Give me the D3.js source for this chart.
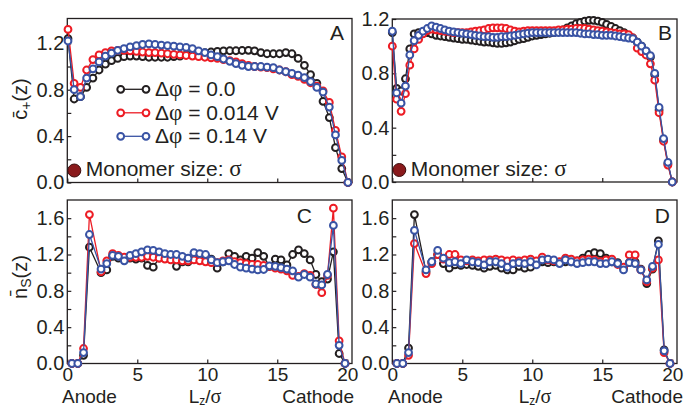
<!DOCTYPE html>
<html>
<head>
<meta charset="utf-8">
<script src="https://cdn.jsdelivr.net/npm/d3@7"></script>
<style>
  body { margin: 0; background: #fff; }
  svg { display: block; }
  text { font-family: "Liberation Sans", Arial, Helvetica, sans-serif; fill: #231f20; }
</style>
</head>
<body>
<svg id="chart" width="686" height="407"></svg>
<script>
// ---- Bin centres along the cell (units of sigma) ----
const zA = [0.05, 0.49, 0.94, 1.38, 1.83, 2.27, 2.72, 3.16, 3.6, 4.05, 4.49, 4.94, 5.38, 5.83, 6.27,
  6.72, 7.16, 7.61, 8.05, 8.49, 8.94, 9.38, 9.83, 10.27, 10.72, 11.16, 11.61, 12.05, 12.49, 12.94,
  13.38, 13.83, 14.27, 14.72, 15.16, 15.61, 16.05, 16.49, 16.94, 17.38, 17.83, 18.27, 18.72, 19.16,
  19.61, 20.05];
const zB = [0, 0.31, 0.63, 0.94, 1.25, 1.56, 1.88, 2.19, 2.5, 2.81, 3.13, 3.44, 3.75, 4.06, 4.38,
  4.69, 5, 5.31, 5.63, 5.94, 6.25, 6.56, 6.88, 7.19, 7.5, 7.81, 8.13, 8.44, 8.75, 9.06, 9.38, 9.69,
  10, 10.31, 10.63, 10.94, 11.25, 11.56, 11.88, 12.19, 12.5, 12.81, 13.13, 13.44, 13.75, 14.06,
  14.38, 14.69, 15, 15.31, 15.63, 15.94, 16.25, 16.56, 16.88, 17.19, 17.5, 17.81, 18.13, 18.44,
  18.75, 19.06, 19.38, 19.69, 20];
const zCD = [0.33, 0.75, 1.16, 1.58, 2.41, 2.82, 3.24, 3.65, 4.07, 4.48, 4.9, 5.31, 5.73, 6.14,
  6.56, 6.97, 7.39, 7.8, 8.22, 8.63, 9.05, 9.46, 9.88, 10.29, 10.71, 11.12, 11.54, 11.95, 12.37,
  12.78, 13.2, 13.61, 14.03, 14.44, 14.86, 15.27, 15.69, 16.1, 16.52, 16.93, 17.35, 17.76, 18.18,
  18.59, 19.01, 19.42, 19.84];

// ---- Counterion density, panel A ----
const cA_0 = [1.24, 0.72, 0.74, 0.82, 0.90, 0.97, 1.02, 1.05, 1.07, 1.085, 1.09, 1.09, 1.085, 1.08,
  1.08, 1.08, 1.08, 1.085, 1.09, 1.10, 1.105, 1.11, 1.12, 1.125, 1.13, 1.135, 1.136, 1.136, 1.138,
  1.14, 1.135, 1.12, 1.11, 1.11, 1.11, 1.12, 1.11, 1.07, 1.01, 0.93, 0.855, 0.70, 0.56, 0.30, 0.12, 0.0];
const cA_014 = [1.32, 0.855, 0.82, 0.97, 1.06, 1.10, 1.12, 1.135, 1.14, 1.14, 1.135, 1.13, 1.125,
  1.12, 1.12, 1.115, 1.11, 1.105, 1.10, 1.095, 1.09, 1.085, 1.08, 1.075, 1.07, 1.06, 1.05, 1.04,
  1.025, 1.01, 1.00, 0.995, 0.99, 0.98, 0.97, 0.955, 0.93, 0.915, 0.89, 0.86, 0.83, 0.79, 0.69,
  0.45, 0.22, 0.0];
const cA_14 = [1.22, 0.80, 0.74, 0.90, 0.98, 1.04, 1.09, 1.115, 1.14, 1.155, 1.17, 1.18, 1.19,
  1.195, 1.19, 1.185, 1.18, 1.175, 1.17, 1.165, 1.155, 1.135, 1.12, 1.10, 1.085, 1.065, 1.045,
  1.025, 1.01, 1.0, 1.0, 1.0, 0.995, 0.99, 0.97, 0.955, 0.94, 0.925, 0.905, 0.87, 0.82, 0.78, 0.65,
  0.41, 0.19, 0.0];

// ---- Counterion density, panel B ----
const cB_0 = [1.10, 0.69, 0.67, 0.76, 0.98, 1.09, 1.10, 1.105, 1.10, 1.09, 1.08, 1.075, 1.07,
  1.065, 1.06, 1.055, 1.05, 1.05, 1.045, 1.04, 1.035, 1.03, 1.03, 1.025, 1.02, 1.02, 1.025, 1.03,
  1.04, 1.05, 1.055, 1.065, 1.075, 1.08, 1.085, 1.09, 1.095, 1.10, 1.11, 1.12, 1.135, 1.15, 1.165,
  1.175, 1.185, 1.19, 1.19, 1.185, 1.175, 1.16, 1.145, 1.13, 1.115, 1.10, 1.08, 1.06, 1.03, 1.0,
  0.96, 0.92, 0.79, 0.53, 0.31, 0.135, 0.0];
const cB_014 = [1.00, 0.61, 0.52, 0.65, 0.86, 0.98, 1.05, 1.09, 1.115, 1.125, 1.12, 1.115, 1.11,
  1.105, 1.10, 1.10, 1.10, 1.10, 1.105, 1.11, 1.115, 1.12, 1.13, 1.135, 1.135, 1.135, 1.13, 1.12,
  1.11, 1.105, 1.11, 1.115, 1.115, 1.115, 1.115, 1.115, 1.115, 1.115, 1.12, 1.12, 1.125, 1.125,
  1.13, 1.13, 1.13, 1.125, 1.12, 1.115, 1.11, 1.105, 1.10, 1.095, 1.09, 1.09, 1.085, 1.06, 0.985,
  0.96, 0.935, 0.87, 0.75, 0.51, 0.30, 0.125, 0.0];
const cB_14 = [1.11, 0.656, 0.58, 0.706, 0.935, 1.04, 1.08, 1.11, 1.13, 1.15, 1.14, 1.13, 1.12,
  1.11, 1.105, 1.10, 1.095, 1.09, 1.085, 1.08, 1.075, 1.07, 1.07, 1.065, 1.065, 1.07, 1.07, 1.075,
  1.08, 1.085, 1.09, 1.095, 1.10, 1.10, 1.10, 1.10, 1.10, 1.10, 1.10, 1.10, 1.10, 1.10, 1.10,
  1.095, 1.09, 1.09, 1.085, 1.085, 1.08, 1.08, 1.08, 1.075, 1.07, 1.065, 1.06, 1.055, 1.03, 1.0,
  0.966, 0.93, 0.80, 0.55, 0.32, 0.145, 0.0];

// ---- Solvent density, panel C ----
const nC_0 = [0, 0, 0.09, 1.28, 1.00, 1.03, 1.18, 1.16, 1.15, 1.16, 1.15, 1.16, 1.08, 1.06, 1.16,
  1.19, 1.18, 1.07, 1.12, 1.12, 1.16, 1.14, 1.18, 1.15, 1.05, 1.12, 1.21, 1.18, 1.14, 1.18, 1.16,
  1.22, 1.18, 1.07, 1.15, 1.14, 1.085, 1.20, 1.25, 1.21, 1.14, 0.98, 0.90, 0.93, 1.23, 0.11, 0];
const nC_014 = [0, 0, 0.165, 1.64, 1.01, 1.13, 1.21, 1.19, 1.17, 1.17, 1.17, 1.17, 1.18, 1.17,
  1.16, 1.15, 1.14, 1.14, 1.13, 1.13, 1.14, 1.13, 1.12, 1.11, 1.11, 1.13, 1.14, 1.12, 1.11, 1.10,
  1.09, 1.09, 1.08, 1.07, 1.05, 1.04, 1.02, 0.97, 0.96, 0.99, 0.97, 0.87, 0.78, 0.97, 1.71, 0.25, 0];
const nC_14 = [0, 0, 0.12, 1.42, 1.04, 1.10, 1.19, 1.18, 1.13, 1.19, 1.21, 1.23, 1.25, 1.245, 1.23,
  1.21, 1.20, 1.20, 1.18, 1.16, 1.22, 1.21, 1.20, 1.14, 1.11, 1.12, 1.13, 1.09, 1.06, 1.05, 1.04,
  1.03, 1.035, 1.075, 1.07, 1.055, 1.04, 1.02, 0.95, 0.98, 0.95, 0.875, 0.865, 0.98, 1.52, 0.20, 0];

// ---- Solvent density, panel D ----
const nD_0 = [0, 0, 0.17, 1.64, 1.01, 1.12, 1.20, 1.10, 1.05, 1.085, 1.08, 1.09, 1.08, 1.07, 1.05,
  1.07, 1.08, 1.05, 1.03, 1.03, 1.07, 1.05, 1.06, 1.10, 1.12, 1.11, 1.12, 1.11, 1.12, 1.12, 1.13,
  1.16, 1.20, 1.22, 1.21, 1.16, 1.12, 1.11, 1.05, 1.11, 1.12, 1.04, 0.88, 1.04, 1.35, 0.15, 0];
const nD_014 = [0, 0, 0.09, 1.32, 0.99, 1.10, 1.20, 1.15, 1.20, 1.20, 1.14, 1.13, 1.14, 1.13, 1.14,
  1.14, 1.15, 1.14, 1.13, 1.14, 1.13, 1.14, 1.15, 1.13, 1.17, 1.14, 1.13, 1.12, 1.16, 1.15, 1.13,
  1.14, 1.15, 1.14, 1.12, 1.14, 1.15, 1.09, 1.06, 1.195, 1.195, 1.03, 0.90, 1.05, 1.14, 0.12, 0];
const nD_14 = [0, 0, 0.12, 1.465, 1.03, 1.12, 1.245, 1.16, 1.11, 1.12, 1.10, 1.14, 1.12, 1.11,
  1.085, 1.12, 1.12, 1.10, 1.06, 1.10, 1.11, 1.10, 1.12, 1.085, 1.14, 1.15, 1.14, 1.10, 1.14, 1.12,
  1.10, 1.11, 1.12, 1.12, 1.10, 1.10, 1.12, 1.10, 1.03, 1.11, 1.10, 1.03, 0.92, 1.07, 1.31, 0.14, 0];

// ---- Labels ----
const legendLabels = ["0.0", "0.014 V", "0.14 V"];
const xTickValues = [0, 5, 10, 15, 20];
const yTicksC = [0, 0.2, 0.4, 0.6, 0.8, 1.0, 1.2];
const yTicksN = [0, 0.2, 0.4, 0.6, 0.8, 1.0, 1.2, 1.4, 1.6];

// ---- Styling ----
const ink = "#231f20";
const colors = ["#231f20", "#ed1c24", "#3953a4"];
const xMax = 20.34;
const fontSize = 19;
const yTickFont = 20;
const xTickFont = 19;
const noteFont = 21;
const serif = "'Liberation Serif', 'Times New Roman', serif";

const svg = d3.select("#chart");

const panels = [
  { letter: "A", z: zA, series: [cA_0, cA_014, cA_14], yMax: 1.414, yTicks: yTicksC,
    x0: 67.3, x1: 352, y0: 18.5, y1: 182.5, letterX: 344, letterY: 40, bottomLabels: false,
    monomer: true, legend: true },
  { letter: "B", z: zB, series: [cB_0, cB_014, cB_14], yMax: 1.2, yTicks: yTicksC,
    x0: 392.3, x1: 677, y0: 19, y1: 182, letterX: 672, letterY: 40, bottomLabels: false,
    monomer: true, legend: false },
  { letter: "C", z: zCD, series: [nC_0, nC_014, nC_14], yMax: 1.8, yTicks: yTicksN,
    x0: 67.3, x1: 352, y0: 200, y1: 363.5, letterX: 312, letterY: 223, bottomLabels: true,
    anodeX: 62, cathodeX: 354, lzX: 205, monomer: false, legend: false },
  { letter: "D", z: zCD, series: [nD_0, nD_014, nD_14], yMax: 1.8, yTicks: yTicksN,
    x0: 392.3, x1: 677, y0: 200, y1: 363.5, letterX: 670, letterY: 223, bottomLabels: true,
    anodeX: 388, cathodeX: 683, lzX: 535, monomer: false, legend: false }
];

function styleAxis(size) {
  return sel => {
    sel.attr("font-size", size).attr("font-family", null).attr("color", ink);
    sel.select(".domain").remove();
    sel.selectAll(".tick line").attr("stroke-width", 1.2);
  };
}

panels.forEach(p => {
  const x = d3.scaleLinear().domain([0, xMax]).range([p.x0, p.x1]);
  const y = d3.scaleLinear().domain([0, p.yMax]).range([p.y1, p.y0]);
  const g = svg.append("g");

  // y axis: inward ticks every 0.2, labels every 0.4
  g.append("g")
    .attr("transform", `translate(${p.x0},0)`)
    .call(d3.axisLeft(y).tickValues(p.yTicks).tickSize(-4).tickPadding(3)
      .tickFormat(d => (Math.round(d * 10) % 4 === 0 ? d3.format(".1f")(d) : "")))
    .call(styleAxis(yTickFont));

  // x axis: inward ticks, numbers only on the lower row
  g.append("g")
    .attr("transform", `translate(0,${p.y1})`)
    .call(d3.axisBottom(x).tickValues(xTickValues).tickSize(-4).tickPadding(4)
      .tickFormat(d => (p.bottomLabels ? d : "")))
    .call(styleAxis(xTickFont));

  g.append("rect")
    .attr("x", p.x0).attr("y", p.y0)
    .attr("width", p.x1 - p.x0).attr("height", p.y1 - p.y0)
    .attr("fill", "none").attr("stroke", ink).attr("stroke-width", 1.3);

  const line = d3.line().x(d => x(d[0])).y(d => y(d[1]));

  p.series.forEach((vals, k) => {
    const pts = p.z.map((zz, i) => [zz, vals[i]]);
    g.append("path").datum(pts)
      .attr("d", line)
      .attr("fill", "none").attr("stroke", colors[k]).attr("stroke-width", 1.3);
    g.append("g").selectAll("circle").data(pts).join("circle")
      .attr("cx", d => x(d[0])).attr("cy", d => y(d[1])).attr("r", 3.4)
      .attr("fill", "#fff").attr("stroke", colors[k]).attr("stroke-width", 2);
  });

  g.append("text").attr("x", p.letterX).attr("y", p.letterY)
    .attr("text-anchor", "end").attr("font-size", 21).text(p.letter);

  if (p.monomer) {
    g.append("circle").attr("cx", p.x0 + 7).attr("cy", p.y1 - 12).attr("r", 6.5)
      .attr("fill", "#8a1a1c").attr("stroke", "#3b0c0c").attr("stroke-width", 1);
    const t = g.append("text").attr("x", p.x0 + 18.5).attr("y", p.y1 - 6.5).attr("font-size", noteFont);
    t.append("tspan").text("Monomer size: ");
    t.append("tspan").attr("font-family", serif).attr("font-size", 23).text("σ");
  }

  if (p.legend) {
    legendLabels.forEach((lab, k) => {
      const cy = 89.3 + k * 23.5;
      g.append("line").attr("x1", 120.7).attr("x2", 146).attr("y1", cy).attr("y2", cy)
        .attr("stroke", colors[k]).attr("stroke-width", 1.3);
      [120.7, 146].forEach(cx => g.append("circle").attr("cx", cx).attr("cy", cy).attr("r", 3.4)
        .attr("fill", "#fff").attr("stroke", colors[k]).attr("stroke-width", 2));
      const t = g.append("text").attr("x", 155).attr("y", cy + 7).attr("font-size", noteFont);
      t.append("tspan").text("Δ");
      t.append("tspan").attr("font-family", serif).attr("font-size", 23).text("φ");
      t.append("tspan").text(" = " + lab);
    });
  }

  if (p.bottomLabels) {
    const by = 402.5;
    g.append("text").attr("x", p.anodeX).attr("y", by).attr("font-size", fontSize).text("Anode");
    g.append("text").attr("x", p.cathodeX).attr("y", by).attr("text-anchor", "end")
      .attr("font-size", fontSize).text("Cathode");
    const t = g.append("text").attr("x", p.lzX).attr("y", by).attr("text-anchor", "middle")
      .attr("font-size", fontSize);
    t.append("tspan").text("L");
    t.append("tspan").attr("font-size", 12).attr("dy", 2).text("z");
    t.append("tspan").attr("dy", -2).text("/");
    t.append("tspan").attr("font-family", serif).attr("font-size", 20).text("σ");
  }
});

// y-axis titles
function yTitle(cx, cy, base, sub) {
  const t = svg.append("text").attr("transform", `translate(${cx},${cy}) rotate(-90)`)
    .attr("text-anchor", "middle").attr("font-size", 20);
  t.append("tspan").text(base + "\u0304");
  t.append("tspan").attr("font-size", 14).attr("dy", 4).text(sub);
  t.append("tspan").attr("dy", -4).text("(z)");
}
yTitle(27, 99, "c", "+");
yTitle(27, 277, "n", "S");
</script>
</body>
</html>
